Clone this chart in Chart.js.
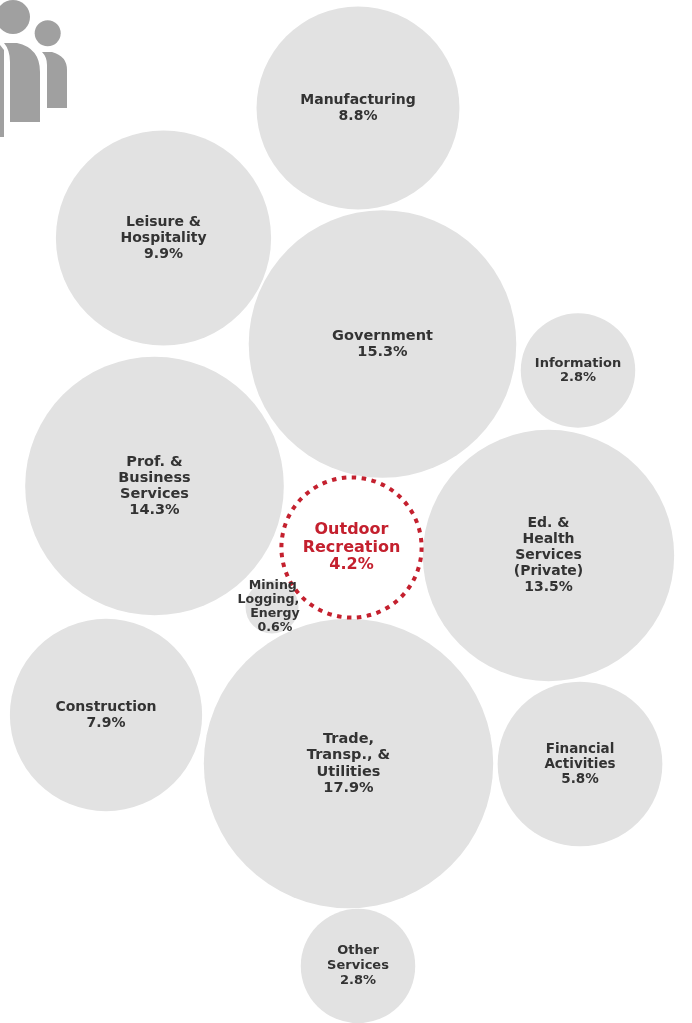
<!DOCTYPE html>
<html>
<head>
<meta charset="utf-8">
<title>Employment share by industry</title>
<script src="https://cdn.jsdelivr.net/npm/chart.js@4"></script>
<style>
  html, body { margin: 0; padding: 0; background: #fff; }
  #wrap { position: relative; width: 692px; height: 1023px; overflow: hidden; filter: blur(0.4px); }
  #icon { position: absolute; left: 0; top: 0; }
  canvas { position: absolute; left: 0; top: 0; }
</style>
</head>
<body>
<div id="wrap">
  <canvas id="bubbles" width="692" height="1023"></canvas>
  <svg id="icon" width="70" height="140" viewBox="0 0 70 140">
    <g fill="#a0a0a0">
      <circle cx="13" cy="17" r="17"/>
      <circle cx="47.7" cy="33.3" r="13"/>
      <path d="M0,45 L4,50 L4,137 L0,137 Z"/>
      <path d="M4,43 L17,43 Q40,48 40,72 L40,122 L10,122 L10,62 Q10,50 4,43 Z"/>
      <path d="M42,52 L52,52 Q67,56 67,70 L67,108 L47,108 L47,65 Q47,57 42,52 Z"/>
    </g>
  </svg>
</div>
<script>
// Industries, one line of the label per array entry
const categories = [
  ['Manufacturing'],
  ['Leisure &', 'Hospitality'],
  ['Government'],
  ['Information'],
  ['Prof. &', 'Business', 'Services'],
  ['Ed. &', 'Health', 'Services', '(Private)'],
  ['Mining ', 'Logging,   ', 'Energy'],
  ['Construction'],
  ['Trade,', 'Transp., &', 'Utilities'],
  ['Financial', 'Activities'],
  ['Other', 'Services']
];
const shares = [8.8, 9.9, 15.3, 2.8, 14.3, 13.5, 0.6, 7.9, 17.9, 5.8, 2.8];
const bubbleX = [358, 163.5, 382.5, 578, 154.5, 548.5, 272, 106, 348.5, 580, 358];
const bubbleY = [108, 238, 344, 370.5, 486, 555.5, 607, 715, 763.5, 764, 966];

const highlightCategory = ['Outdoor', 'Recreation'];
const highlightShare = [4.2];
const highlightX = [351.5];
const highlightY = [547.5];

// bubble area goes with the share
const radiusScale = 34.2;
const labelFont = [14, 14, 14.5, 13, 14.5, 14, 12.6, 14, 14.5, 13.5, 13];
const labelGap = [16, 16, 16, 14.5, 16, 16, 14, 16, 16.5, 15, 15];
const labelShiftX = [0, 0, 0, 0, 0, 0, 3, 0, 0, 0, 0];

// the stock controller insets the chart area by the biggest radius, we want the whole page
Chart.BubbleController.prototype.getMaxOverflow = () => 0;

function bubblePoints(xs, ys, vals) {
  return vals.map((v, i) => ({ x: xs[i], y: ys[i], r: Math.sqrt(v) * radiusScale }));
}

function drawLabel(ctx, lines, x, y, size, gap, color) {
  ctx.save();
  ctx.font = 'bold ' + size + 'px "DejaVu Sans"';
  ctx.fillStyle = color;
  ctx.textAlign = 'center';
  ctx.textBaseline = 'middle';
  const top = y - (lines.length - 1) * gap / 2;
  lines.forEach((line, i) => ctx.fillText(line, x, top + i * gap));
  ctx.restore();
}

// dotted ring for the highlighted bubble and the text inside the bubbles
const bubbleLabels = {
  id: 'bubbleLabels',
  beforeDatasetDraw(chart, args) {
    if (args.index === 1) chart.ctx.setLineDash([4.5, 5.5]);
  },
  afterDatasetDraw(chart, args) {
    if (args.index === 1) chart.ctx.setLineDash([]);
  },
  afterDatasetsDraw(chart) {
    const ctx = chart.ctx;
    const sx = chart.scales.x, sy = chart.scales.y;
    categories.forEach((lines, i) => {
      drawLabel(ctx, lines.concat(shares[i].toFixed(1) + '%'),
        sx.getPixelForValue(bubbleX[i]) + labelShiftX[i], sy.getPixelForValue(bubbleY[i]),
        labelFont[i], labelGap[i], '#333333');
    });
    drawLabel(ctx, highlightCategory.concat(highlightShare[0].toFixed(1) + '%'),
      sx.getPixelForValue(highlightX[0]), sy.getPixelForValue(highlightY[0]),
      16, 17.5, '#c4202e');
  }
};

new Chart(document.getElementById('bubbles').getContext('2d'), {
  type: 'bubble',
  data: {
    datasets: [
      {
        label: 'Industries',
        data: bubblePoints(bubbleX, bubbleY, shares),
        backgroundColor: '#e2e2e2',
        borderWidth: 0,
        order: 2,
        clip: false
      },
      {
        label: 'Outdoor Recreation',
        data: bubblePoints(highlightX, highlightY, highlightShare),
        backgroundColor: '#ffffff',
        borderColor: '#c4202e',
        borderWidth: 4,
        order: 1,
        clip: false
      }
    ]
  },
  options: {
    responsive: false,
    animation: false,
    events: [],
    layout: { padding: 0 },
    plugins: { legend: { display: false }, tooltip: { enabled: false } },
    scales: {
      x: { type: 'linear', min: 0, max: 692, display: false },
      y: { type: 'linear', min: 0, max: 1023, reverse: true, display: false }
    }
  },
  plugins: [bubbleLabels]
});
</script>
</body>
</html>
